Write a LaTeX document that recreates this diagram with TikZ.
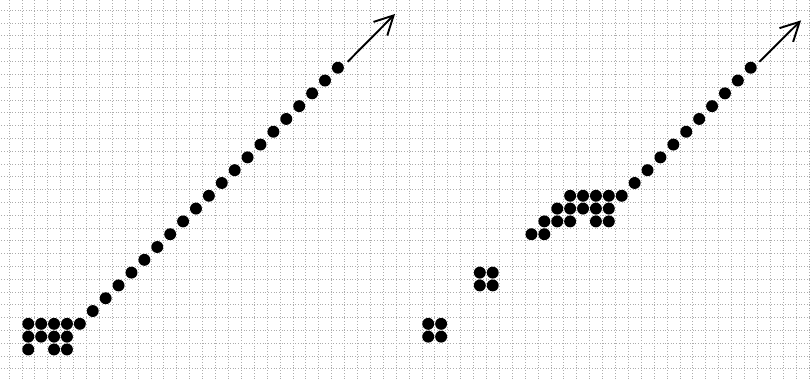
\documentclass[tikz,border=0pt]{standalone}
\usetikzlibrary{arrows.meta}
\begin{document}
\begin{tikzpicture}[x=0.4cm,y=0.397cm]
\clip (-0.69,-0.82) rectangle (62.17,28.79);
\draw[gray!65,dotted,line width=0.4pt,step={(1,1)}] (-1,-1) grid (63,29);
% left: block and long run
\foreach \i in {1,...,5} \fill (\i+.5,3.5) circle (0.185cm);
\foreach \i in {1,...,4} \fill (\i+.5,2.5) circle (0.185cm);
\foreach \i in {1,3,4} \fill (\i+.5,1.5) circle (0.185cm);
\foreach \k in {0,...,19} \fill (6.5+\k,4.5+\k) circle (0.185cm);
\draw[line width=1.7pt,-{Straight Barb[length=0.58cm,width=0.6cm]}] (26.26,23.97) -- (29.93,27.7);
% right: two small blocks, clump and run
\foreach \i/\j in {32/2,33/2,32/3,33/3,36/6,37/6,36/7,37/7} \fill (\i+.5,\j+.5) circle (0.185cm);
\foreach \i in {40,41} \fill (\i+.5,10.5) circle (0.185cm);
\foreach \i in {41,42,43,45,46} \fill (\i+.5,11.5) circle (0.185cm);
\foreach \i in {42,...,46} \fill (\i+.5,12.5) circle (0.185cm);
\foreach \i in {43,...,47} \fill (\i+.5,13.5) circle (0.185cm);
\foreach \k in {0,...,9} \fill (48.5+\k,14.5+\k) circle (0.185cm);
\draw[line width=1.7pt,-{Straight Barb[length=0.58cm,width=0.6cm]}] (58.17,23.97) -- (61.4,27.2);
\end{tikzpicture}
\end{document}
